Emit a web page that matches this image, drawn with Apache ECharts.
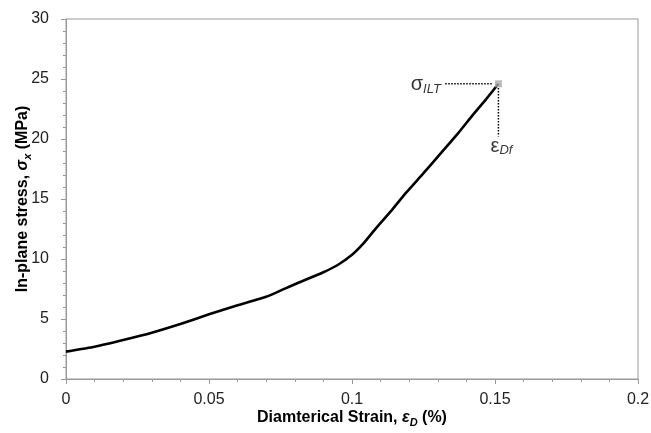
<!DOCTYPE html>
<html>
<head>
<meta charset="utf-8">
<script src="https://cdn.jsdelivr.net/npm/echarts@6/dist/echarts.min.js"></script>
<style>
html,body{margin:0;padding:0;background:#fff;}
#chart{width:651px;height:433px;}
</style>
</head>
<body>
<div id="chart"></div>
<script>
// Diametrical strain (%) and in-plane stress (MPa)
var strain = [0, 0.01, 0.02, 0.03, 0.04, 0.05, 0.06, 0.07, 0.08, 0.09, 0.095, 0.1, 0.104, 0.1085, 0.114, 0.119, 0.125, 0.131, 0.137, 0.1424, 0.147, 0.1512];
var stress = [2.28, 2.69, 3.25, 3.86, 4.58, 5.39, 6.15, 6.85, 7.9, 8.9, 9.5, 10.35, 11.3, 12.6, 14.1, 15.55, 17.15, 18.8, 20.45, 22.05, 23.35, 24.6];
var xTicks = [0, 0.05, 0.1, 0.15, 0.2];
var yTicks = [0, 5, 10, 15, 20, 25, 30];

var curve = strain.map(function (x, i) { return [x, stress[i]]; });
var endX = strain[strain.length - 1];
var endY = stress[stress.length - 1];

var FONT = '"Liberation Sans", Arial, sans-serif';
var axisGray = '#999999';

var chart = echarts.init(document.getElementById('chart'));
chart.setOption({
  animation: false,
  backgroundColor: '#ffffff',
  textStyle: { fontFamily: FONT },
  grid: { left: 66, right: 13, top: 19, bottom: 54, outerBoundsMode: 'none', containLabel: false, show: true, borderColor: axisGray, borderWidth: 1, backgroundColor: 'transparent' },
  xAxis: {
    type: 'value', min: xTicks[0], max: xTicks[xTicks.length - 1], interval: 0.05,
    axisLine: { show: true, onZero: false, lineStyle: { color: axisGray, width: 1 } },
    axisTick: { show: true, inside: false, length: 5, lineStyle: { color: axisGray } },
    minorTick: { show: true, splitNumber: 5, length: 3, lineStyle: { color: axisGray } },
    splitLine: { show: false },
    axisLabel: { fontSize: 16, color: '#222', margin: 13, fontFamily: FONT },
    name: '{b|Diamterical Strain, }{bi|ε}{sub|D}{b| (%)}',
    nameLocation: 'middle', nameGap: 29, nameMoveOverlap: false,
    nameTextStyle: {
      rich: {
        b: { fontSize: 16, fontWeight: 'bold', color: '#000', fontFamily: FONT, lineHeight: 20 },
        bi: { fontSize: 16, fontWeight: 'bold', fontStyle: 'italic', color: '#000', fontFamily: FONT, lineHeight: 20 },
        sub: { fontSize: 11, fontWeight: 'bold', fontStyle: 'italic', color: '#000', fontFamily: FONT, verticalAlign: 'bottom', padding: [7, 0, 0, 0] }
      }
    }
  },
  yAxis: {
    type: 'value', min: yTicks[0], max: yTicks[yTicks.length - 1], interval: 5,
    axisLine: { show: true, onZero: false, lineStyle: { color: axisGray, width: 1 } },
    axisTick: { show: true, inside: false, length: 5, lineStyle: { color: axisGray } },
    minorTick: { show: true, splitNumber: 5, length: 3, lineStyle: { color: axisGray } },
    splitLine: { show: false },
    axisLabel: { fontSize: 16, color: '#222', margin: 17, fontFamily: FONT },
    name: '{b|In-plane stress, }{bi|σ}{sub|x}{b| (MPa)}',
    nameLocation: 'middle', nameGap: 33, nameRotate: 90, nameMoveOverlap: false,
    nameTextStyle: {
      rich: {
        b: { fontSize: 16, fontWeight: 'bold', color: '#000', fontFamily: FONT, lineHeight: 20 },
        bi: { fontSize: 16, fontWeight: 'bold', fontStyle: 'italic', color: '#000', fontFamily: FONT, lineHeight: 20 },
        sub: { fontSize: 11, fontWeight: 'bold', fontStyle: 'italic', color: '#000', fontFamily: FONT, verticalAlign: 'bottom', padding: [7, 0, 0, 0] }
      }
    }
  },
  series: [
    {
      name: 'curve', type: 'line', data: curve, showSymbol: false, symbol: 'none', smooth: 0.15,
      lineStyle: { color: '#000', width: 2.6 }, z: 3
    },
    {
      name: 'guideH', type: 'line', data: [[endX - 0.0186, endY], [endX - 0.0019, endY]],
      symbol: 'none', lineStyle: { color: '#000', width: 1.5, type: [1.5, 1.5] }, z: 2
    },
    {
      name: 'guideV', type: 'line', data: [[endX, endY - 0.35], [endX, endY - 4.4]],
      symbol: 'none', lineStyle: { color: '#000', width: 1.5, type: [1.5, 1.5] }, z: 2
    },
    {
      name: 'failure', type: 'scatter', data: [[endX, endY]], symbol: 'rect', symbolSize: 7,
      itemStyle: { color: '#aaaaaa' }, z: 4,
      label: {
        show: true, position: 'left', distance: 54, offset: [0, 1],
        formatter: '{s|σ}{sub|ILT}',
        rich: {
          s: { fontSize: 20, color: '#000', fontFamily: FONT, lineHeight: 22 },
          sub: { fontSize: 13, fontStyle: 'italic', color: '#000', fontFamily: FONT, verticalAlign: 'bottom', padding: [8, 0, 0, 0] }
        }
      }
    },
    {
      name: 'failureStrain', type: 'scatter', data: [[endX, endY]], symbol: 'rect', symbolSize: 7,
      itemStyle: { color: 'transparent' }, z: 1,
      label: {
        show: true, position: 'bottom', distance: 48, offset: [3, 0],
        formatter: '{s|ε}{sub|Df}',
        rich: {
          s: { fontSize: 20, color: '#000', fontFamily: FONT, lineHeight: 22 },
          sub: { fontSize: 13, fontStyle: 'italic', color: '#000', fontFamily: FONT, verticalAlign: 'bottom', padding: [8, 0, 0, 0] }
        }
      }
    }
  ]
});
</script>
</body>
</html>
